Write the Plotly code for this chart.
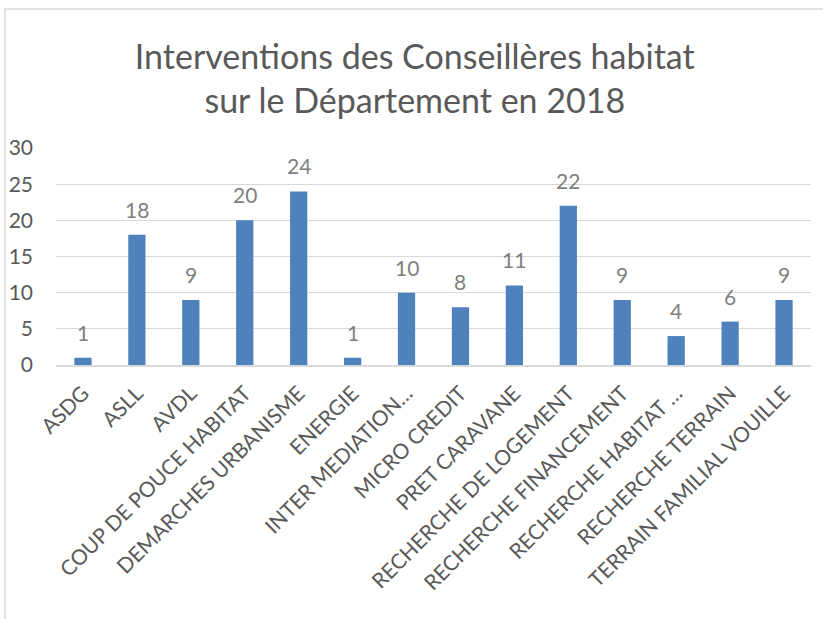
import plotly.graph_objects as go

categories = ["ASDG", "ASLL", "AVDL", "COUP DE POUCE HABITAT", "DEMARCHES URBANISME",
              "ENERGIE", "INTER MEDIATION…", "MICRO CREDIT", "PRET CARAVANE",
              "RECHERCHE DE LOGEMENT", "RECHERCHE FINANCEMENT", "RECHERCHE HABITAT …",
              "RECHERCHE TERRAIN", "TERRAIN FAMILIAL VOUILLE"]
values = [1, 18, 9, 20, 24, 1, 10, 8, 11, 22, 9, 4, 6, 9]
y_ticks = [0, 5, 10, 15, 20, 25, 30]

FONT = "Lato, 'Open Sans', sans-serif"

fig = go.Figure(go.Bar(
    x=categories, y=values, width=0.32,
    marker=dict(color="#4f81bd", line=dict(width=0)),
))

for c, v in zip(categories, values):
    fig.add_annotation(x=c, y=v, text=str(v), showarrow=False, yanchor="bottom",
                       yshift=11, font=dict(family=FONT, size=21, color="#7f7f7f"))

fig.update_layout(
    width=823, height=619,
    margin=dict(l=56, r=12, t=148, b=254),
    paper_bgcolor="white", plot_bgcolor="white",
    showlegend=False,
    title=dict(text="Interventions des Conseillères habitat<br>sur le Département en 2018",
               x=0.504, xanchor="center", y=1 - 69 / 619, yanchor="middle",
               yref="container",
               font=dict(family=FONT, size=34, color="#595959")),
    xaxis=dict(type="category", tickangle=-45, showgrid=False, automargin=False,
               showline=True, linecolor="#d9d9d9", linewidth=1.5, ticks="",
               ticklabelstandoff=6,
               tickfont=dict(family=FONT, size=21, color="#595959")),
    yaxis=dict(range=[0, 30], tickvals=y_ticks, showgrid=True, gridcolor="#d9d9d9",
               gridwidth=1, zeroline=False, showline=False, ticks="", automargin=False,
               tickfont=dict(family=FONT, size=21, color="#595959"), ticklabelstandoff=22),
)

fig.add_shape(type="rect", xref="paper", yref="paper",
              x0=-51 / 755, x1=1.2, y0=-2, y1=1 + 139 / 217,
              line=dict(color="#d9d9d9", width=1.5), fillcolor="rgba(0,0,0,0)", layer="below")

fig.write_html("out.html", config={"displayModeBar": False},
               post_script="document.body.style.margin='0';")
